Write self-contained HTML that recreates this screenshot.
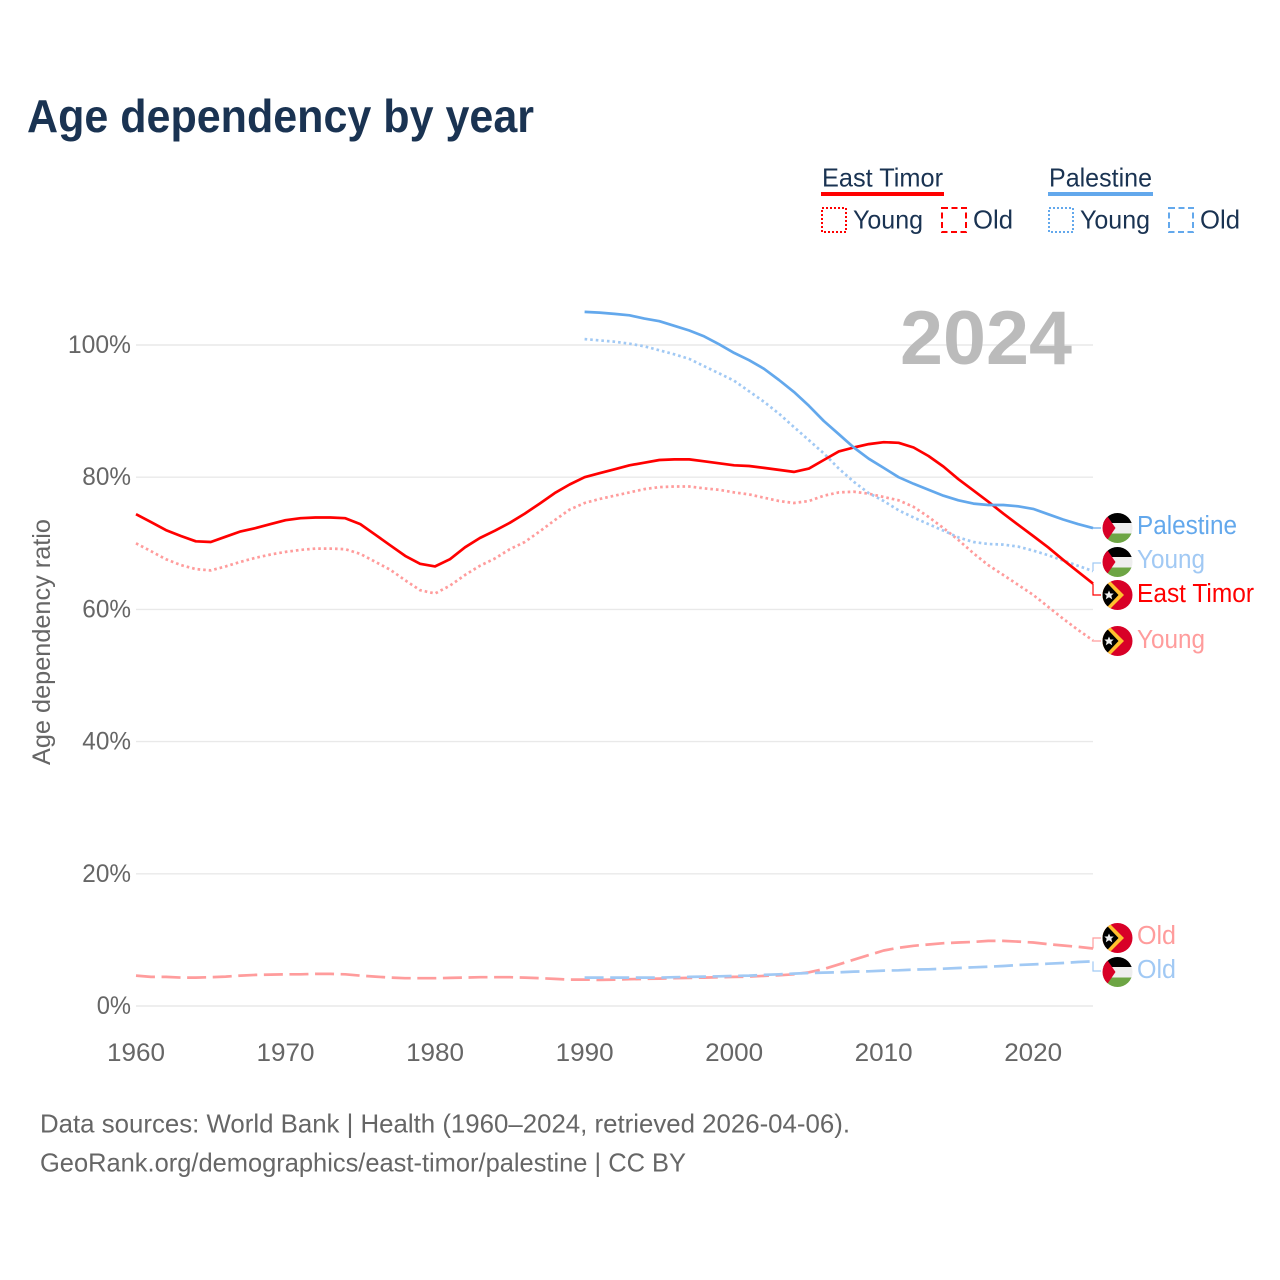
<!DOCTYPE html>
<html lang="en">
<head>
<meta charset="utf-8">
<title>Age dependency by year</title>
<style>
html,body{margin:0;padding:0;background:#fff;}
svg{display:block;font-family:"Liberation Sans",sans-serif;}
</style>
</head>
<body>
<svg id="chart" xmlns="http://www.w3.org/2000/svg" width="1280" height="1280" viewBox="0 0 1280 1280">
<defs>
<clipPath id="flag-clip"><circle cx="0" cy="0" r="15"/></clipPath>
<g id="flag-ps" clip-path="url(#flag-clip)">
<rect x="-15" y="-15" width="30" height="10" fill="#000"/>
<rect x="-15" y="-5" width="30" height="10.5" fill="#eee"/>
<rect x="-15" y="5.5" width="30" height="10" fill="#6da544"/>
<polygon points="-15,-19 -2,0 -15,19" fill="#d80027"/>
</g>
<g id="flag-tl" clip-path="url(#flag-clip)">
<rect x="-15" y="-15" width="30" height="30" fill="#d80027"/>
<polygon points="-15,-21.5 6.5,0 -15,21.5" fill="#ffc02e"/>
<polygon points="-15,-17 1,0 -15,17" fill="#000"/>
<polygon points="-8.5,-4.5 -7.2,-1.5 -3.8,-1.5 -6.2,0.8 -5.3,4.2 -8.5,2.3 -11.7,4.2 -10.8,0.8 -13.2,-1.5 -9.8,-1.5" fill="#eee"/>
</g>
</defs>

<text x="27" y="132" font-size="46" font-weight="bold" fill="#1a3352" textLength="507" lengthAdjust="spacingAndGlyphs">Age dependency by year</text>

<g>
<g>
<text x="822" y="186.5" font-size="26" fill="#1a3352" textLength="121" lengthAdjust="spacingAndGlyphs">East Timor</text>
<rect x="821" y="192" width="123" height="4" fill="#ff0000"/>
<rect x="822" y="208" width="24" height="24" fill="none" stroke="#ff0000" stroke-width="2" stroke-dasharray="2 2"/>
<text x="853" y="228.5" font-size="26" fill="#1a3352" textLength="70" lengthAdjust="spacingAndGlyphs">Young</text>
<rect x="942" y="208" width="24" height="24" fill="none" stroke="#ff0000" stroke-width="2" stroke-dasharray="6 3.5"/>
<text x="973" y="228.5" font-size="26" fill="#1a3352" textLength="40" lengthAdjust="spacingAndGlyphs">Old</text>
</g>
<g>
<text x="1049" y="186.5" font-size="26" fill="#1a3352" textLength="103" lengthAdjust="spacingAndGlyphs">Palestine</text>
<rect x="1048" y="192" width="105" height="4" fill="#63a8ec"/>
<rect x="1049" y="208" width="24" height="24" fill="none" stroke="#63a8ec" stroke-width="2" stroke-dasharray="2 2"/>
<text x="1080" y="228.5" font-size="26" fill="#1a3352" textLength="70" lengthAdjust="spacingAndGlyphs">Young</text>
<rect x="1169" y="208" width="24" height="24" fill="none" stroke="#63a8ec" stroke-width="2" stroke-dasharray="6 3.5"/>
<text x="1200" y="228.5" font-size="26" fill="#1a3352" textLength="40" lengthAdjust="spacingAndGlyphs">Old</text>
</g>
</g>

<g id="grid"></g>
<text x="900" y="364" font-size="76" font-weight="bold" fill="#bbbbbb" textLength="172" lengthAdjust="spacingAndGlyphs">2024</text>
<g id="yticks"></g>
<g id="xticks"></g>
<text transform="translate(50,642) rotate(-90)" text-anchor="middle" font-size="25" fill="#666" textLength="246" lengthAdjust="spacingAndGlyphs">Age dependency ratio</text>
<g id="series"></g>

<g>
<use href="#flag-ps" x="1117.5" y="528"/>
<text x="1137" y="534" font-size="25.5" fill="#63a8ec" textLength="100" lengthAdjust="spacingAndGlyphs">Palestine</text>
<use href="#flag-ps" x="1117.5" y="562"/>
<text x="1137" y="568" font-size="25.5" fill="#a1c9f4" textLength="68" lengthAdjust="spacingAndGlyphs">Young</text>
<use href="#flag-tl" x="1117.5" y="595"/>
<text x="1137" y="602" font-size="25.5" fill="#ff0000" textLength="117" lengthAdjust="spacingAndGlyphs">East Timor</text>
<use href="#flag-tl" x="1117.5" y="641"/>
<text x="1137" y="648" font-size="25.5" fill="#ff9c9c" textLength="68" lengthAdjust="spacingAndGlyphs">Young</text>
<use href="#flag-tl" x="1117.5" y="938"/>
<text x="1137" y="944" font-size="25.5" fill="#ff9c9c" textLength="39" lengthAdjust="spacingAndGlyphs">Old</text>
<use href="#flag-ps" x="1117.5" y="972"/>
<text x="1137" y="978" font-size="25.5" fill="#a1c9f4" textLength="39" lengthAdjust="spacingAndGlyphs">Old</text>
</g>

<g>
<text x="40" y="1132.5" font-size="26" fill="#666" textLength="810" lengthAdjust="spacingAndGlyphs">Data sources: World Bank | Health (1960–2024, retrieved 2026-04-06).</text>
<text x="40" y="1171.5" font-size="26" fill="#666" textLength="646" lengthAdjust="spacingAndGlyphs">GeoRank.org/demographics/east-timor/palestine | CC BY</text>
</g>
</svg>

<script>
const yTickValues = [0, 20, 40, 60, 80, 100];
const yTickLabels = ["0%", "20%", "40%", "60%", "80%", "100%"];
const xTickValues = [1960, 1970, 1980, 1990, 2000, 2010, 2020];
const xTickLabels = ["1960", "1970", "1980", "1990", "2000", "2010", "2020"];

const eastStartYear = 1960;
const palestineStartYear = 1990;

const eastTotal = [74.4,73.2,72.0,71.1,70.3,70.2,71.0,71.8,72.3,72.9,73.5,73.8,73.9,73.9,73.8,72.9,71.3,69.7,68.1,66.9,66.5,67.6,69.4,70.8,71.9,73.1,74.5,76.0,77.6,78.9,80.0,80.6,81.2,81.8,82.2,82.6,82.7,82.7,82.4,82.1,81.8,81.7,81.4,81.1,80.8,81.3,82.6,83.9,84.5,85.0,85.3,85.2,84.5,83.2,81.6,79.7,78.0,76.3,74.5,72.8,71.1,69.4,67.5,65.7,63.9];
const eastYoung = [70.0,68.8,67.6,66.7,66.1,65.9,66.5,67.2,67.8,68.3,68.7,69.0,69.2,69.2,69.1,68.4,67.2,66.0,64.4,62.9,62.4,63.6,65.2,66.6,67.7,69.1,70.2,71.8,73.5,75.1,76.1,76.7,77.2,77.7,78.2,78.5,78.6,78.6,78.3,78.1,77.7,77.4,76.9,76.4,76.1,76.4,77.2,77.7,77.8,77.5,77.0,76.5,75.5,74.0,72.3,70.5,68.5,66.7,65.2,63.7,62.2,60.4,58.6,56.9,55.3];
const eastOld = [4.6,4.4,4.4,4.3,4.3,4.35,4.45,4.6,4.7,4.75,4.8,4.8,4.85,4.85,4.8,4.6,4.45,4.3,4.2,4.2,4.2,4.25,4.3,4.35,4.35,4.35,4.3,4.2,4.1,4.0,4.0,3.95,4.0,4.05,4.1,4.15,4.2,4.25,4.3,4.35,4.4,4.45,4.55,4.65,4.8,5.1,5.6,6.3,7.0,7.7,8.4,8.8,9.1,9.3,9.5,9.6,9.7,9.85,9.85,9.75,9.6,9.35,9.15,8.95,8.7];

const palestineTotal = [105.0,104.9,104.7,104.5,104.0,103.6,102.9,102.2,101.3,100.1,98.8,97.7,96.4,94.7,92.9,90.8,88.5,86.5,84.5,82.8,81.4,80.0,79.0,78.1,77.2,76.5,76.0,75.8,75.8,75.6,75.2,74.4,73.6,72.9,72.3];
const palestineYoung = [100.9,100.7,100.5,100.2,99.8,99.2,98.6,97.9,96.8,95.7,94.6,93.0,91.4,89.6,87.6,85.6,83.6,81.3,79.3,77.6,76.4,75.0,73.9,72.9,71.9,70.9,70.2,69.9,69.8,69.5,68.9,68.2,67.4,66.6,65.8];
const palestineOld = [4.3,4.3,4.3,4.3,4.3,4.3,4.35,4.4,4.45,4.5,4.55,4.6,4.7,4.8,4.9,5.0,5.05,5.1,5.2,5.25,5.35,5.4,5.5,5.55,5.65,5.75,5.85,5.95,6.05,6.2,6.3,6.4,6.5,6.65,6.75];

const SVGNS = "http://www.w3.org/2000/svg";
function xScale(year) { return 136 + (year - 1960) * (957 / 64); }
function yScale(pct) { return 1006 - pct * 6.61; }
function mk(tag, parent, attrs) {
  const el = document.createElementNS(SVGNS, tag);
  for (const k in attrs) el.setAttribute(k, attrs[k]);
  parent.appendChild(el);
  return el;
}

const gridG = document.getElementById("grid");
const yG = document.getElementById("yticks");
const xG = document.getElementById("xticks");
const seriesG = document.getElementById("series");

yTickValues.forEach(function (v, i) {
  const line = mk("line", gridG, { x1: 136, x2: 1093, y1: yScale(v), y2: yScale(v), stroke: "#e9e9e9", "stroke-width": 1.4 });
  
  
  const label = yTickLabels[i];
  const t = mk("text", yG, { x: 131, y: yScale(v) + 8, "text-anchor": "end", "font-size": 25, fill: "#666", textLength: label.length * 14.4 + 5.5, lengthAdjust: "spacingAndGlyphs" });
  
  
  t.textContent = label;
});

xTickValues.forEach(function (v, i) {
  const t = mk("text", xG, { x: xScale(v), y: 1061, "text-anchor": "middle", "font-size": 25, fill: "#666", textLength: 58, lengthAdjust: "spacingAndGlyphs" });
  
  
  t.textContent = xTickLabels[i];
});

function seriesPoints(values, startYear) {
  return values.map(function (v, i) {
    return xScale(startYear + i).toFixed(1) + "," + yScale(v).toFixed(1);
  }).join(" ");
}

function drawLine(values, startYear, color, dash) {
  const attrs = { points: seriesPoints(values, startYear), fill: "none", stroke: color, "stroke-width": 2.7, "stroke-linejoin": "round" };
  if (dash) attrs["stroke-dasharray"] = dash;
  return mk("polyline", seriesG, attrs);
}

function drawConnector(values, targetY, color) {
  const x = xScale(2024);
  const y = yScale(values[values.length - 1]);
  return mk("polyline", seriesG, { points: x + "," + y + " " + x + "," + targetY + " 1101," + targetY, fill: "none", stroke: color, "stroke-width": 1.2 });
}

const DOT = "2.6 3";
const DASH = "19 6.6";
const BLUE = "#63a8ec";
const BLUE_LIGHT = "#a1c9f4";
const RED = "#ff0000";
const RED_LIGHT = "#ff9c9c";

const c1 = drawConnector(palestineTotal, 528, BLUE);


const c2 = drawConnector(palestineYoung, 563, BLUE_LIGHT);


const c3 = drawConnector(palestineOld, 971, BLUE_LIGHT);


const c4 = drawConnector(eastTotal, 595, RED);


const c5 = drawConnector(eastYoung, 641, RED_LIGHT);


const c6 = drawConnector(eastOld, 938, RED_LIGHT);



const l1 = drawLine(eastOld, eastStartYear, RED_LIGHT, DASH);


const l2 = drawLine(palestineOld, palestineStartYear, BLUE_LIGHT, DASH);


const l3 = drawLine(eastYoung, eastStartYear, RED_LIGHT, DOT);


const l4 = drawLine(palestineYoung, palestineStartYear, BLUE_LIGHT, DOT);


const l5 = drawLine(eastTotal, eastStartYear, RED, null);


const l6 = drawLine(palestineTotal, palestineStartYear, BLUE, null);


</script>
</body>
</html>
